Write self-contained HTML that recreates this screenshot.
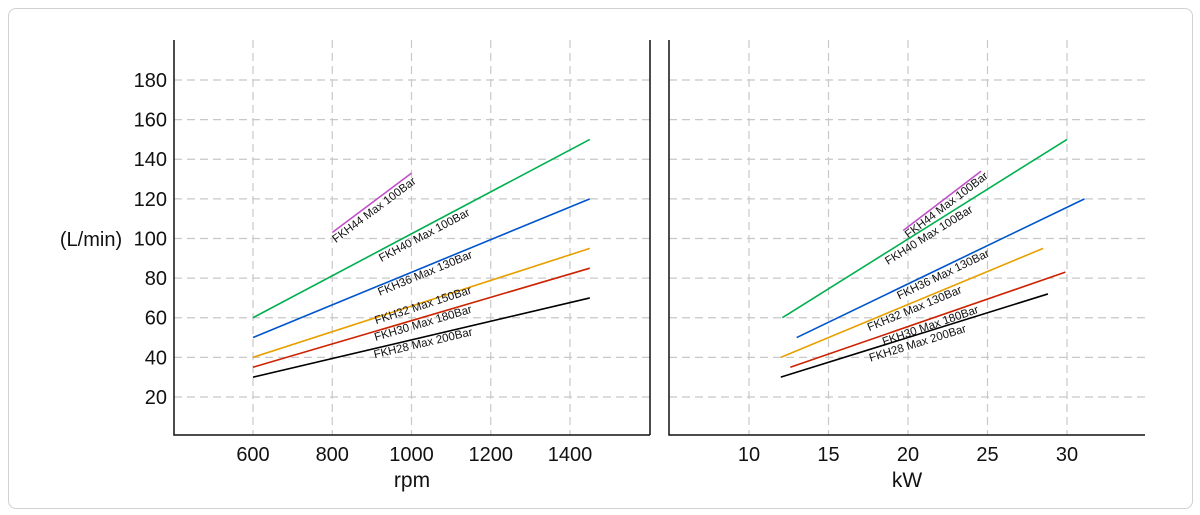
<!DOCTYPE html>
<html><head><meta charset="utf-8"><style>
body{margin:0;background:#fff;font-family:"Liberation Sans",sans-serif}
#card{position:absolute;left:8px;top:8px;width:1183px;height:499px;border:1px solid #d0d0d0;border-radius:8px}
svg{position:absolute;left:0;top:0}
</style></head><body>
<div id="card"></div>
<svg id="c" width="1200" height="515"></svg>
<script>
const seriesNames=["FKH44 Max 100Bar","FKH40 Max 100Bar","FKH36 Max 130Bar","FKH32 Max 150Bar","FKH30 Max 180Bar","FKH28 Max 200Bar"];
const rightNames=["FKH44 Max 100Bar","FKH40 Max 100Bar","FKH36 Max 130Bar","FKH32 Max 130Bar","FKH30 Max 180Bar","FKH28 Max 200Bar"];
const colors=["#c050c8","#00b050","#0055cc","#e8a000","#cc2200","#000000"];
const rpmStart=[800,600,600,600,600,600];
const rpmEnd=[1000,1450,1450,1450,1450,1450];
const flowStart=[103,60,50,40,35,30];
const flowEnd=[133,150,120,95,85,70];
const kwStart=[19.7,12.1,13.0,12.0,12.6,12.0];
const kwEnd=[24.6,30.0,31.1,28.5,29.9,28.8];
const kwFlowStart=[104,60,50,40,35,30];
const kwFlowEnd=[134,150,120,95,83,72];
const leftLabX=[905,1032,1034,1029,1029,1029];
const leftLabY=[114.5,101.8,82.6,66.5,57.4,47.3];
const rightLabX=[22.4,21.3,22.2,20.4,21.4,20.6];
const rightLabY=[117,101.8,82,64.8,56.2,47.3];
const yTicks=[20,40,60,80,100,120,140,160,180];
const rpmTicks=[600,800,1000,1200,1400];
const kwTicks=[10,15,20,25,30];

const NS="http://www.w3.org/2000/svg",svg=document.getElementById('c');
function mk(t,a,p){const e=document.createElementNS(NS,t);for(const k in a)e.setAttribute(k,a[k]);(p||svg).appendChild(e);return e;}
const Y=v=>436.6-v*1.98125;
const Xl=v=>253+(v-600)*0.39625;
const Xr=v=>749+(v-10)*15.9;

function panel(x0,x1,X,ticks,title,tx,name,xs,xe,ys,ye,names,lx,ly){
  const g=mk('g',{});
  
  
  yTicks.forEach(t=>{const l=mk('line',{x1:x0,x2:x1,y1:Y(t),y2:Y(t),stroke:'#c8c8c8','stroke-width':1.2,'stroke-dasharray':'8,5'},g);
    });
  ticks.forEach(t=>{const l=mk('line',{x1:X(t),x2:X(t),y1:40,y2:435,stroke:'#c8c8c8','stroke-width':1.2,'stroke-dasharray':'8,5'},g);
    
    const s=mk('text',{x:X(t),y:461,'text-anchor':'middle','font-size':20,fill:'#111'},g);s.textContent=t;
    });
  const ax=mk('path',{d:`M${x0} 40V435H${x1}`,fill:'none',stroke:'#111','stroke-width':1.5},g);
  
  const tt=mk('text',{x:tx,y:487,'text-anchor':'middle','font-size':21,fill:'#111'},g);tt.textContent=title;
  
  for(let i=0;i<xs.length;i++){
    const x1p=X(xs[i]),y1p=Y(ys[i]),x2p=X(xe[i]),y2p=Y(ye[i]);
    const l=mk('line',{x1:x1p,y1:y1p,x2:x2p,y2:y2p,stroke:colors[i],'stroke-width':1.6},g);
    
    const ang=Math.atan2(y2p-y1p,x2p-x1p)*180/Math.PI;
    const px=X(lx[i]),py=Y(ly[i]);
    const t=mk('text',{x:px,y:py+4,'text-anchor':'middle','font-size':11.5,fill:'#111',transform:`rotate(${ang} ${px} ${py})`},g);
    t.textContent=names[i];
    
  }
}
panel(174,650,Xl,rpmTicks,'rpm',412,'rpm-panel',rpmStart,rpmEnd,flowStart,flowEnd,seriesNames,leftLabX,leftLabY);
panel(669,1145,Xr,kwTicks,'kW',907,'kw-panel',kwStart,kwEnd,kwFlowStart,kwFlowEnd,rightNames,rightLabX,rightLabY);
const rb=mk('line',{x1:650,x2:650,y1:40,y2:435,stroke:'#111','stroke-width':1.5});

yTicks.forEach(t=>{const s=mk('text',{x:167,y:Y(t)+7,'text-anchor':'end','font-size':20,fill:'#111'});s.textContent=t;
  });
const yt=mk('text',{x:91,y:246,'text-anchor':'middle','font-size':20,fill:'#111'});yt.textContent='(L/min)';

</script>
</body></html>
